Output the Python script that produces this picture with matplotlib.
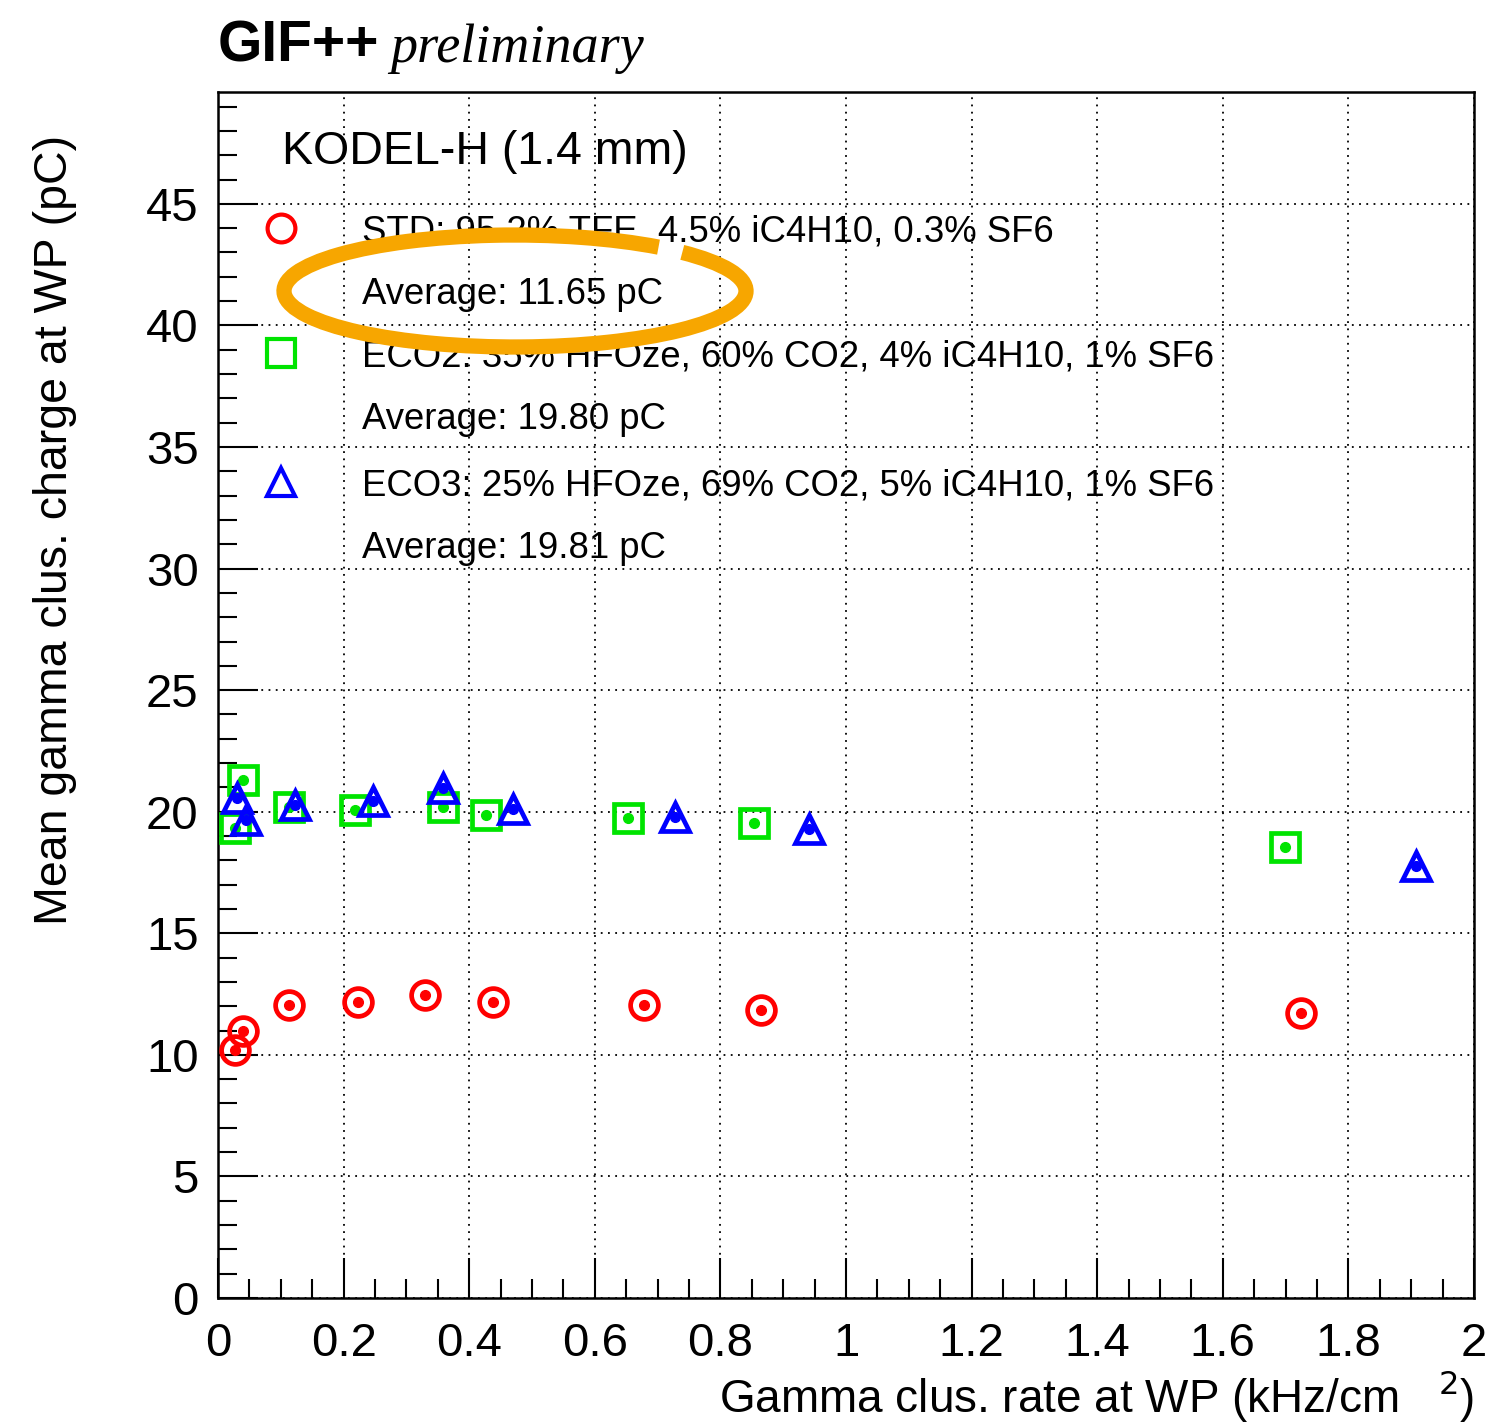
import matplotlib
matplotlib.use('Agg')
import matplotlib.pyplot as plt
from matplotlib.patches import Arc
from matplotlib.ticker import MultipleLocator

plt.rcParams['font.family'] = ['Liberation Sans', 'DejaVu Sans']

# gamma cluster rate (kHz/cm2) and mean charge (pC) per gas mixture
rate_std = [0.027, 0.040, 0.113, 0.223, 0.330, 0.438, 0.678, 0.864, 1.724]
q_std = [10.2, 11.0, 12.06, 12.18, 12.47, 12.18, 12.06, 11.85, 11.73]

rate_eco2 = [0.027, 0.040, 0.113, 0.218, 0.359, 0.427, 0.653, 0.854, 1.699]
q_eco2 = [19.33, 21.29, 20.19, 20.08, 20.19, 19.85, 19.74, 19.53, 18.53]

rate_eco3 = [0.030, 0.045, 0.123, 0.247, 0.359, 0.469, 0.728, 0.941, 1.907]
q_eco3 = [20.56, 19.67, 20.29, 20.43, 20.98, 20.11, 19.80, 19.30, 17.77]

labels = ['STD: 95.2% TFE, 4.5% iC4H10, 0.3% SF6',
          'ECO2: 35% HFOze, 60% CO2, 4% iC4H10, 1% SF6',
          'ECO3: 25% HFOze, 69% CO2, 5% iC4H10, 1% SF6']
averages = ['Average: 11.65 pC', 'Average: 19.80 pC', 'Average: 19.81 pC']

W, H = 1496, 1428
fig = plt.figure(figsize=(W / 100, H / 100), dpi=100)
ax = fig.add_axes([218 / W, 1 - 1298 / H, (1474 - 218) / W, (1298 - 92) / H])

series = [(rate_std, q_std, 'o', '#ff0000'),
          (rate_eco2, q_eco2, 's', '#00e400'),
          (rate_eco3, q_eco3, '^', '#0000ff')]
for x, y, m, c in series:
    ax.plot(x, y, ls='none', marker=m, ms=20, mfc='none', mec=c, mew=3.4, zorder=3)
    ax.plot(x, y, ls='none', marker='o', ms=7, mfc=c, mec=c, zorder=3)

ax.set_xlim(0, 2)
ax.set_ylim(0, 49.6)
ax.xaxis.set_major_locator(MultipleLocator(0.2))
ax.xaxis.set_minor_locator(MultipleLocator(0.05))
ax.yaxis.set_major_locator(MultipleLocator(5))
ax.yaxis.set_minor_locator(MultipleLocator(1))
ax.xaxis.set_major_formatter(plt.FuncFormatter(lambda v, p: '%g' % round(v, 1)))
ax.tick_params(which='both', direction='in', top=False, right=False, width=1.5, labelsize=34)
ax.tick_params(which='major', length=29)
ax.tick_params(which='minor', length=14)
ax.tick_params(axis='x', pad=17)
ax.tick_params(axis='y', pad=14)
ax.grid(True, which='major', color='black', ls=(0, (1, 3)), lw=1.3)
for s in ax.spines.values():
    s.set_linewidth(1.8)

fig.text(55 / W, 1 - 135 / H, 'Mean gamma clus. charge at WP (pC)', rotation=90,
         ha='center', va='top', fontsize=33.5)
fig.text(1474 / W, 1 - 1396 / H, 'Gamma clus. rate at WP (kHz/cm   $^{2}$)', ha='right',
         va='center', fontsize=33)

fig.text(218 / W, 1 - 62 / H, 'GIF++', fontsize=41, fontweight='bold', va='baseline')
fig.text(390 / W, 1 - 62 / H, 'preliminary', fontsize=39, style='italic',
         family='Liberation Serif', va='baseline')

# legend block drawn by hand
fig.text(282 / W, 1 - 152 / H, 'KODEL-H (1.4 mm)', fontsize=33.5, va='center')
rows = [232, 357, 486]
for (x, y, m, c), lab, avg, yr in zip(series, labels, averages, rows):
    fig.lines.append(plt.Line2D([281 / W], [1 - (yr - 4) / H], transform=fig.transFigure,
                                ls='none', marker=m, ms=20, mfc='none', mec=c, mew=3))
    fig.text(362 / W, 1 - yr / H, lab, fontsize=26.3, va='center')
    fig.text(362 / W, 1 - (yr + 62) / H, avg, fontsize=26.3, va='center')

# orange hand-drawn highlight around the STD average
arc = Arc((515, H - 291), 462, 112, angle=0, theta1=17, theta2=13 + 360,
          transform=None, color='#f7a600', lw=11, zorder=10)
fig.patches.append(arc)

fig.savefig('out.png', dpi=100)
